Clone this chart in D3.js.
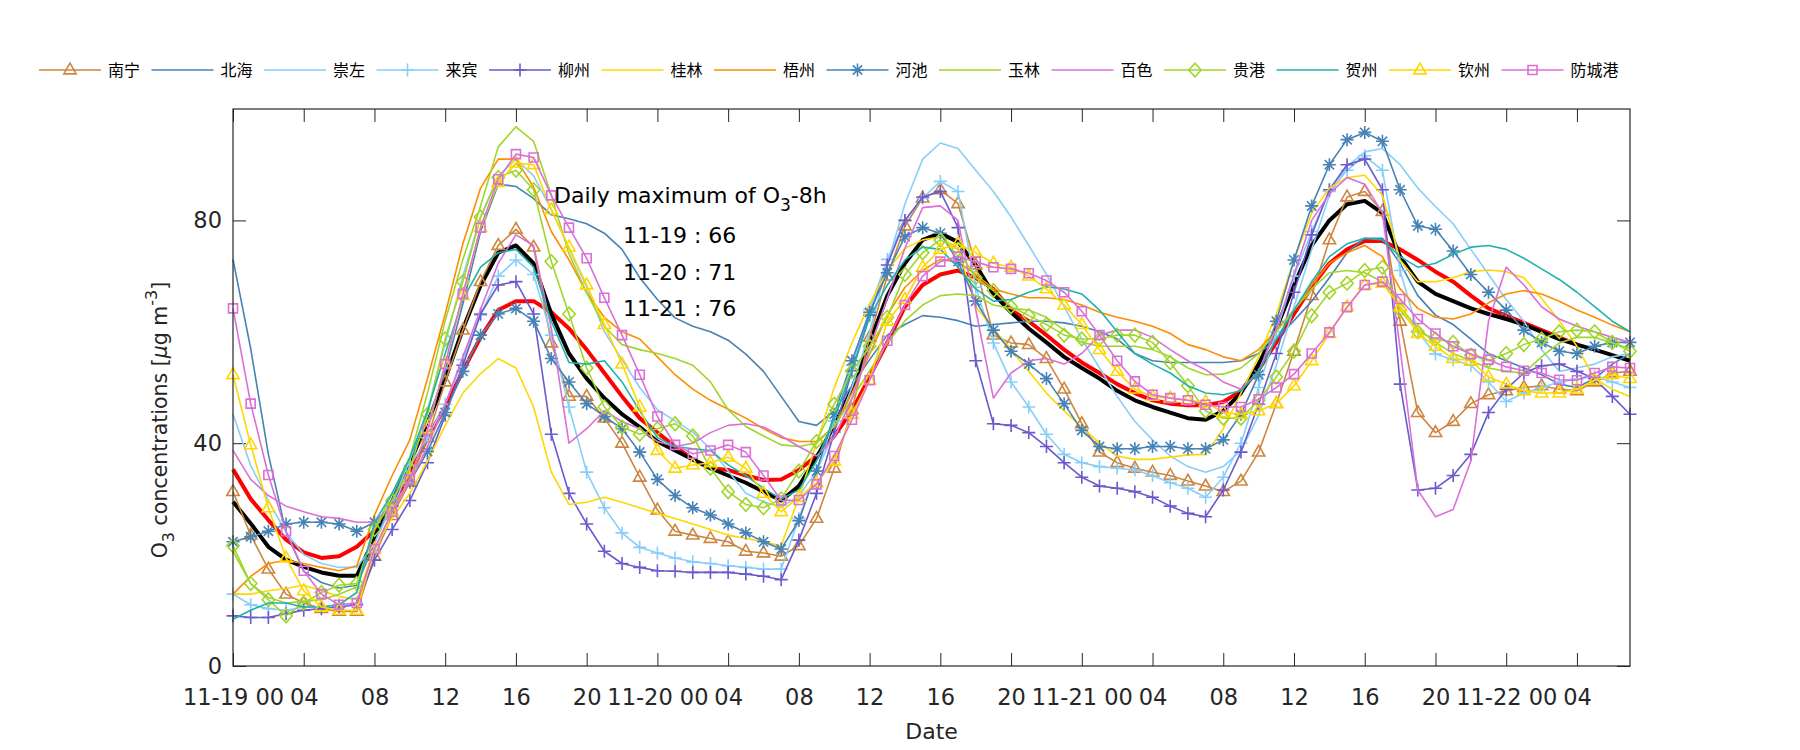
<!DOCTYPE html>
<html><head><meta charset="utf-8">
<script src="https://cdn.jsdelivr.net/npm/d3@7"></script>
<style>body{margin:0;background:#fff}</style>
</head><body>
<svg id="chart" width="1800" height="750"></svg>
<script>
// ---------------- DATA ----------------
const hourIndex = d3.range(0, 80); // hourly, 11-19 00 .. 11-22 07
const cityNames = ["南宁","北海","崇左","来宾","柳州","桂林","梧州","河池","玉林","百色","贵港","贺州","钦州","防城港"];
const nanning = [31.3,23.5,17.4,12.9,11.3,10.3,9.8,9.8,19.7,27,33,41,51,60.3,69,
75.5,78.4,75.2,58,48.4,48.4,44.5,40,33.9,28,24.2,23.5,22.9,
22.3,20.6,20.3,19.7,21.6,26.5,35.5,46,59,70,79,84,85.5,83,
72,59.4,58,57.7,55.2,49.7,43.5,38.4,36.5,35.5,34.8,34.2,33.2,
32.3,31.3,33.2,38.4,47.1,56.5,66.5,76.5,84.2,85.2,81.6,61.9,45.5,41.9,
43.9,47.1,48.7,49.4,50,50.3,49.7,49.4,51,52.6,52.9];
const beihai = [73,57,38,24,17,15,14,14.5,22,30,37,44,53,65,78,
86.5,86.1,83.9,81,80.3,79.4,77.7,74.8,69.7,65.8,62.5,61,60,
58.5,56,52.9,48.4,43.9,43.2,45.8,50.3,55,59.4,61.3,62.9,62.6,62,
61,61.3,61.6,61.9,61.9,61.6,61,60,58.7,56.1,54.8,54.5,54.5,
54.5,54.5,54.8,56.1,58.7,62,65.5,69.7,74.2,76.8,76.8,72.3,66.5,63,
61.3,58.7,56.1,54.8,53.5,52.3,50.6,50,51.6,54.2,56.1];
const chongzuo = [45.2,36,29.7,24,20,18.4,17.7,17.7,22,29,37,46,58,70,80.6,
88,91,88,82,75,68,60,55,50,46,44,42,39,
35,31,29.5,28.5,30.5,35,42,50,60,72,83,91,93.9,92.9,
89,85.2,80.6,75.5,70.3,64.5,58.7,53.5,48.4,43.9,40.6,37.7,35.8,
34.8,35.8,38.7,45,54,64.5,74.8,84.5,89.7,92.3,92.9,90,85.8,82.5,
79.4,74.8,70.3,65.8,61.9,56.8,52.9,53.5,54.2,55.5,56.1];
const laibin = [12.9,11,10.3,10,10.6,10.6,11,11.3,20.6,28,36,41,47,55,63,
70,72.9,70.3,59.4,46.5,34.8,28.4,23.9,21.3,20.3,19.4,18.7,18.4,
18,17.7,17.4,17.4,26.5,35,44,54,64,73,80,84,87,85.2,
68,58,51,46.5,41.6,38,36.5,35.8,35.5,35.2,34.2,32.9,31.9,
30.3,33.9,40,50,60,70,78,85.2,89,91.6,89,71,60,56,
55,54,51,47.5,49,50,51,51.5,52,51,50];
const liuzhou = [9,8.7,8.7,9.4,10,10.3,10.6,11,19,24.5,29.7,36.5,45,54,63.2,
68.4,69,63.2,41.6,31,25.5,20.6,18.4,17.7,17.1,17,16.8,16.8,
16.8,16.5,16.1,15.5,22.6,31,42,53,63,72,80,84.2,85.2,78.7,
54.8,43.5,43.2,41.9,39.4,36.5,33.9,32.3,31.9,31.3,30.3,28.7,27.4,
26.8,31.6,38.4,47,56.1,67.1,77.4,85.5,90,91,85.5,50.6,31.6,31.9,
34.2,38,45.5,49.7,52.6,53.9,54.2,52.9,51.6,48.4,45.2];
const guilin = [12.9,12.9,13.5,13.9,14.5,13.5,12.5,11.9,21.3,26.5,31,36.8,43.2,49,52.5,
55.2,53.5,46.5,34.8,29,29.4,30.3,29.4,28.4,27.4,26.5,25.5,24.5,
23.5,22.9,22.3,21.6,30.3,40,50,58,65,71,75,76.5,77,75,
64.5,60.6,56.8,52.9,49,45.8,42.9,40,37.7,37.1,37.1,37.5,37.9,
38,42.6,49,55.5,63.2,72.9,81.3,85.8,87.7,88.1,84.5,72.9,69,69,
69.7,70.8,71.1,70.8,69.7,66,62,57.4,51.6,49.7,48.4];
const wuzhou = [12.9,16.1,18.4,19,18.4,17.7,17.1,18,27.1,34.2,40.6,51.6,63.2,75.8,85.8,
91,91,86,78,72.9,67,62.6,60,58.7,55.5,52.3,49.7,47.7,
46.1,44.5,42.6,41,40.3,40.3,43,49,56,63,68,71,73,72.5,
70.3,67.7,66.8,66.1,66.1,65.8,64.8,63.5,62.6,61.9,61,59.7,57.7,
56.8,55.5,54.8,56.8,60.3,63.9,68.4,72.3,74.2,75.5,73.5,67.7,64.2,62.6,
62.3,63.2,65.2,66.8,67.4,66.8,65.5,63.9,62.6,61.2,60];
const hechi = [22.3,23.2,24.2,25.5,25.8,25.8,25.5,24.2,25.8,28.7,33,38.5,45.5,52.9,59.4,
63.2,64.2,61.9,55.2,51,47.1,44.8,42.6,38.4,33.5,30.6,28.4,27.1,
25.5,23.9,22.3,21,26.1,35,45.2,54.8,63.5,70.6,77.1,78.7,77.7,72.6,
65.5,60.3,56.5,54.2,51.6,47.1,42.3,39.4,39,39,39.4,39.4,39,
39,40.6,45.2,52.3,61.9,72.9,82.6,90,94.5,95.8,94.2,85.5,79,78.4,
74.5,70.3,67.1,63.9,60.3,58.1,56.5,56.1,57.4,58.1,58.1];
const yulin = [20.6,14.8,12.3,11.3,11.6,11.9,12.9,14.2,24.5,31,37.4,49,62,73,82.6,
93.2,96.8,94.2,84.5,74,67,61,57.7,56.8,56.1,55.2,54,51,
46,43,41.3,39.7,39.4,40,43,48,53,58,62,64.8,66.5,66.8,
66.5,64.8,64.2,63.9,62.6,60.3,58.1,57.4,57.4,57.4,56.8,55.5,53.5,
52.3,52.4,53.5,56.1,60,63.9,67.7,70.6,71,70.6,69,64.5,60.6,58.1,
56.1,54.8,53.5,52.9,52.6,55.5,58,59,59,58,57];
const baise = [38.7,33.5,30.6,28.7,27.7,26.8,26.5,25.8,25.8,29,33,39.4,47,55.5,64,
72.3,77.4,75.5,60.6,40,42.6,45.8,43.9,42.6,40.3,39.4,40,41.9,
43.2,43.5,42.9,41.3,39.4,37.7,41,48,57,66,75,82.3,82.6,80,
64,48.1,52.6,54.8,55.2,54.2,56.1,59.4,60.3,60.3,59,56.8,54.8,
53.2,51,49.7,52.9,60.6,70.3,80,84.8,87.7,86.5,81.3,57,31.6,26.8,
28.1,36.8,61.9,71.6,68.4,64.5,62.3,61,60,59,58.1];
const guigang = [21.6,14.8,11.9,9,11.3,13.2,14.5,14.8,24.5,29.7,35.5,45.2,58.7,69,80.6,
87.7,89,85.5,72.6,63.2,53.5,46.5,42.9,41.6,42.6,43.5,41.3,35.5,
31.3,29,28.4,30,35,40.3,47,52.9,57.4,62.6,70.3,74.2,76.5,74.8,
69.7,67.4,64.5,62.9,61.3,59.4,58.7,58.7,59.4,59.4,58.1,54.5,50.3,
45.8,44.5,44.5,47.7,51.9,56.5,62.9,67.1,68.7,71,71.6,63.9,60,58.7,
58.1,55.8,54.8,56.1,57.7,58.7,60,60.3,60,58.1,56.5];
const hezhou = [8.4,10,11.3,11.3,10.6,10.6,11,13.2,25.8,31,37.4,45.8,56.1,65.8,71.6,
74.2,74.8,71.6,61.9,54.5,54.2,54.8,51,45.8,41,39.4,39,38.7,
36.1,34.2,31.9,30,31.6,36.8,44.5,52.9,62.6,68.4,72.9,75.2,74.8,71.6,
67.7,65.5,65.8,67.1,68.1,67.7,66.8,63.9,60,56.1,54.2,52.6,50.3,
49,48.7,49.4,52.9,58.7,63.9,69,73.5,75.8,76.8,76.5,73.5,71.6,72.3,
73.9,75.2,75.5,74.8,73.2,71.3,69.4,67.1,64.5,61.9,60];
const qinzhou = [52.3,39.7,28.4,19.4,13.5,10.6,10,10,21,27.7,33.5,42.6,54.2,66.5,78.7,
86.8,90.3,90,81.9,75.2,68.4,61.3,54.2,46.5,38.7,35.5,36.1,36.5,
37.5,35.5,31,27.7,30.3,32.9,36.8,45.2,51.3,61.9,65.8,71.6,74.8,75.8,
74.2,72.3,71.6,70,67.7,64.8,61.3,56.8,52.9,49.7,48.4,48.1,47.7,
47.4,45.5,45.2,45.8,47.1,50.3,54.8,59.7,64.5,68.4,68.7,64.5,59.7,57.4,
55.2,54.8,51.9,50.6,49.4,49,49,49.7,51.3,52.3,51.6];
const fangchenggang = [64.2,47.1,34.3,24.2,17.1,12.9,11,11.3,21,27.7,33.5,42.3,54.2,66.8,78.7,
87.4,91.9,91.3,84.5,78.7,73.2,66.1,59.4,52.3,44.8,39.7,38.1,38.7,
39.7,38.4,34.2,29.7,29.8,32.6,37.7,44.2,51.3,58.4,64.8,70,72.6,73.5,
72.6,71.6,71.3,70.5,69.2,67.1,63.7,59.4,54.8,51.1,48.7,48.1,47.7,
46.9,46.5,46.5,47.9,50,52.4,56.1,59.9,64.4,68.4,69,65.9,62.3,59.7,
57.4,56,55,53.7,53,52.6,51.4,51.3,52.6,53.7,53.5];
// thick summary curves (not in legend)
const redCurve = [35.3,30,26.2,22.7,20.4,19.4,19.7,21.4,24.3,28.8,34.6,41,46.5,53,59,
63.9,65.5,65.5,63.5,60.6,56.8,52.6,48.4,44.5,41.9,39.4,37.1,35.5,
35.2,34.2,33.4,33.5,35.2,37.7,41.3,45.8,51.9,58.1,64.5,68.4,70.3,71,
69.7,67.7,63.9,61.9,59.4,56.8,54.5,52.6,50.6,49,47.7,47.1,46.8,
46.8,47.4,49.4,53.2,58.1,63.2,68.1,72.3,74.8,76.3,76.3,74.8,72.9,70.8,
69,66.5,64.2,62.9,61.6,60.3,59,57.7];
const blackCurve = [29.5,25.6,21.4,19.1,17.8,16.8,16.2,16.2,23,29.5,36.6,43.7,51.5,60.5,68.3,
74.2,75.5,72.3,63.2,56.1,51.6,48.1,45.2,42.9,40.3,38.7,37.1,35.5,
34.2,32.9,31.3,29.7,32.3,37.4,43.2,49.7,58.1,66.5,72.3,76.5,77.7,76.1,
72,66.8,63.5,60.6,58.1,55.5,53.5,51.6,49.4,47.7,46.5,45.5,44.5,
44.2,45.8,49,54.2,60.6,68.4,75.5,80,82.9,83.5,81.3,73.5,69,66.8,
65.5,64.2,63.2,62.3,61.3,60,58.7,57.7,56.8,55.8,54.8];

const xTickValues = [0,4,8,12,16,20,24,28,32,36,40,44,48,52,56,60,64,68,72,76];
const xTickLabels = ["11-19 00","04","08","12","16","20","11-20 00","04","08","12","16","20","11-21 00","04","08","12","16","20","11-22 00","04"];
const yTickValues = [0,40,80];
const annotationTitle = "Daily maximum of O";
const annotationLines = ["11-19 : 66","11-20 : 71","11-21 : 76"];

// ---------------- STYLES ----------------
const cityValues = [nanning,beihai,chongzuo,laibin,liuzhou,guilin,wuzhou,hechi,yulin,baise,guigang,hezhou,qinzhou,fangchenggang];
const cityColors = ["#CD853F","#4682B4","#87CEFA","#87CEFA","#6A5ACD","#FFD700","#FF8C00","#4682B4","#A0D62A","#DA70D6","#A0D62A","#20B2AA","#FFD700","#DA70D6"];
const cityMarkers = ["tri",null,null,"plus","plus",null,null,"star",null,null,"diamond",null,"tri","square"];

const svg = d3.select("#chart");
svg.append("rect").attr("width",1800).attr("height",750).attr("fill","#fff");
const L=233,R=1630,T=109,B=666;
const x = d3.scaleLinear().domain([0,79]).range([L,R]);
const y = d3.scaleLinear().domain([0,100]).range([B,T]);
const axisColor = "#262626";
const tickFont = "'DejaVu Sans',sans-serif";

function markerPath(type, cx, cy){
  const s=6.5;
  switch(type){
    case "tri": return `M${cx},${cy-s*1.05}L${cx+s*0.95},${cy+s*0.6}L${cx-s*0.95},${cy+s*0.6}Z`;
    case "plus": return `M${cx-s},${cy}H${cx+s}M${cx},${cy-s}V${cy+s}`;
    case "star": { const d=s*0.72; return `M${cx-s},${cy}H${cx+s}M${cx},${cy-s}V${cy+s}M${cx-d},${cy-d}L${cx+d},${cy+d}M${cx-d},${cy+d}L${cx+d},${cy-d}`; }
    case "diamond": return `M${cx},${cy-s*1.05}L${cx+s*0.95},${cy}L${cx},${cy+s*1.05}L${cx-s*0.95},${cy}Z`;
    case "square": { const q=4.5; return `M${cx-q},${cy-q}H${cx+q}V${cy+q}H${cx-q}Z`; }
  }
  return "";
}

// axes (inside ticks on all four sides)
const gx = svg.append("g").attr("transform",`translate(0,${B})`)
  .call(d3.axisBottom(x).tickValues(xTickValues).tickFormat((d,i)=>xTickLabels[i]).tickSizeInner(-13).tickSizeOuter(0).tickPadding(23));
const gxt = svg.append("g").attr("transform",`translate(0,${T})`)
  .call(d3.axisTop(x).tickValues(xTickValues).tickFormat("").tickSizeInner(-13).tickSizeOuter(0));
const gy = svg.append("g").attr("transform",`translate(${L},0)`)
  .call(d3.axisLeft(y).tickValues(yTickValues).tickSizeInner(-13).tickSizeOuter(0).tickPadding(11));
const gyr = svg.append("g").attr("transform",`translate(${R},0)`)
  .call(d3.axisRight(y).tickValues(yTickValues).tickFormat("").tickSizeInner(-13).tickSizeOuter(0));
[gx,gxt,gy,gyr].forEach(g=>{
  g.select(".domain").remove();
  g.selectAll(".tick line").attr("stroke",axisColor).attr("stroke-width",1);
  g.selectAll(".tick text").attr("fill",axisColor).style("font-family",tickFont).style("font-size","22.5px");
});

// lines
const lineGen = d3.line().x(d=>x(d[0])).y(d=>y(d[1]));
const plotG = svg.append("g");
function pairs(arr){ return arr.map((v,i)=>[hourIndex[i],v]); }
plotG.append("path").attr("d",lineGen(pairs(redCurve))).attr("fill","none").attr("stroke","#FF0000").attr("stroke-width",4).attr("stroke-linejoin","round");
plotG.append("path").attr("d",lineGen(pairs(blackCurve))).attr("fill","none").attr("stroke","#000").attr("stroke-width",4).attr("stroke-linejoin","round");

cityValues.forEach((vals,k)=>{
  const g = plotG.append("g");
  g.append("path").attr("d",lineGen(pairs(vals))).attr("fill","none")
    .attr("stroke",cityColors[k]).attr("stroke-width",1.6).attr("stroke-linejoin","round");
  if(cityMarkers[k]){
    g.selectAll("path.m").data(pairs(vals)).join("path").attr("class","m")
      .attr("d",d=>markerPath(cityMarkers[k],x(d[0]),y(d[1])))
      .attr("fill","none").attr("stroke",cityColors[k]).attr("stroke-width",1.6);
  }
});

// box
svg.append("rect").attr("x",L).attr("y",T).attr("width",R-L).attr("height",B-T)
  .attr("fill","none").attr("stroke",axisColor).attr("stroke-width",1.2);

// axis labels
svg.append("text").attr("x",(L+R)/2).attr("y",739).attr("text-anchor","middle")
  .style("font-family",tickFont).style("font-size","22px").attr("fill",axisColor).text("Date");
const yl = svg.append("text").attr("transform","translate(167,420) rotate(-90)").attr("text-anchor","middle")
  .style("font-family",tickFont).style("font-size","20.5px").attr("fill",axisColor);
yl.append("tspan").text("O");
yl.append("tspan").attr("dy",7).style("font-size","16px").text("3");
yl.append("tspan").attr("dy",-7).text(" concentrations [");
yl.append("tspan").style("font-style","italic").text("μ");
yl.append("tspan").text("g m");
yl.append("tspan").attr("dy",-10).style("font-size","16px").text("-3");
yl.append("tspan").attr("dy",10).text("]");

// annotation
const annFont = "'DejaVu Sans',sans-serif";
const at = svg.append("text").attr("x",554).attr("y",203).style("font-family",annFont).style("font-size","22px").attr("fill","#000");
at.append("tspan").text(annotationTitle);
at.append("tspan").attr("dy",8).style("font-size","17px").text("3");
at.append("tspan").attr("dy",-8).text("-8h");
annotationLines.forEach((t,i)=>{
  svg.append("text").attr("x",623).attr("y",243+i*36.5).style("font-family",annFont).style("font-size","22px").attr("fill","#000").text(t);
});

// legend
const legY = 70;
cityNames.forEach((name,k)=>{
  const x0 = 39 + 112.5*k;
  const g = svg.append("g");
  g.append("line").attr("x1",x0).attr("x2",x0+62).attr("y1",legY).attr("y2",legY).attr("stroke",cityColors[k]).attr("stroke-width",1.6);
  if(cityMarkers[k]) g.append("path").attr("d",markerPath(cityMarkers[k],x0+31,legY)).attr("fill","none").attr("stroke",cityColors[k]).attr("stroke-width",1.6);
  g.append("text").attr("x",x0+69).attr("y",legY+6).style("font-family","'Noto Sans CJK SC',sans-serif").style("font-size","16px").attr("fill","#000").text(name);
});
</script>
</body></html>
